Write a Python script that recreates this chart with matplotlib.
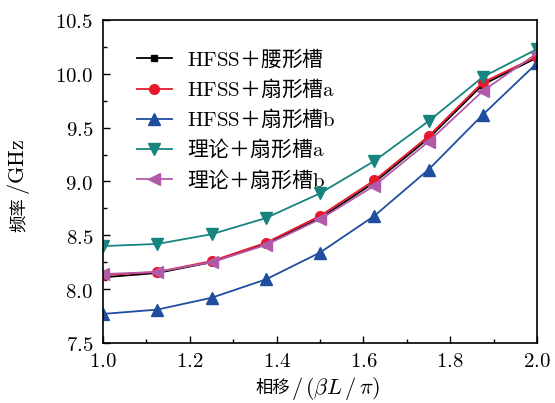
import matplotlib
matplotlib.use("Agg")
import matplotlib.pyplot as plt
from matplotlib.ticker import MultipleLocator, FuncFormatter

plt.rcParams['font.family'] = ['Noto Sans CJK SC', 'DejaVu Serif']
plt.rcParams['mathtext.fontset'] = 'cm'

x = [1.0, 1.125, 1.25, 1.375, 1.5, 1.625, 1.75, 1.875, 2.0]
hfss_waist = [8.11, 8.15, 8.25, 8.42, 8.66, 8.99, 9.40, 9.90, 10.15]
hfss_fan_a = [8.13, 8.16, 8.26, 8.43, 8.68, 9.01, 9.42, 9.92, 10.16]
hfss_fan_b = [7.77, 7.81, 7.92, 8.09, 8.34, 8.68, 9.11, 9.62, 10.10]
theory_fan_a = [8.40, 8.42, 8.51, 8.66, 8.89, 9.19, 9.56, 9.97, 10.23]
theory_fan_b = [8.14, 8.16, 8.25, 8.41, 8.65, 8.96, 9.37, 9.84, 10.19]

labels = [r'$\mathrm{HFSS}$＋腰形槽', r'$\mathrm{HFSS}$＋扇形槽$\mathrm{a}$',
          r'$\mathrm{HFSS}$＋扇形槽$\mathrm{b}$', r'理论＋扇形槽$\mathrm{a}$',
          r'理论＋扇形槽$\mathrm{b}$']

fig = plt.figure(figsize=(5.55, 4.03), dpi=100)
ax = fig.add_axes([0.1856, 0.1489, 0.782, 0.8015])

series = [
    (hfss_waist, 'black', 's', 5),
    (hfss_fan_a, '#e8192c', 'o', 7),
    (hfss_fan_b, '#1f4e9e', '^', 8),
    (theory_fan_a, '#17847f', 'v', 8),
    (theory_fan_b, '#b25aaa', '<', 8),
]
for (y, c, m, ms), lab in zip(series, labels):
    ax.plot(x, y, color=c, marker=m, markersize=ms, linewidth=1.3, label=lab)

ax.set_xlim(1.0, 2.0)
ax.set_ylim(7.5, 10.5)
ax.xaxis.set_major_locator(MultipleLocator(0.2))
ax.xaxis.set_minor_locator(MultipleLocator(0.1))
ax.yaxis.set_major_locator(MultipleLocator(0.5))
ax.yaxis.set_minor_locator(MultipleLocator(0.25))
ax.xaxis.set_major_formatter(FuncFormatter(lambda v, p: r'$%.1f$' % v))
ax.yaxis.set_major_formatter(FuncFormatter(lambda v, p: r'$%.1f$' % v))
ax.tick_params(which='both', direction='in', top=False, right=False, labelsize=15)
ax.tick_params(which='major', length=5, width=1)
ax.tick_params(which='minor', length=3, width=1)
ax.tick_params(axis='y', pad=7)
ax.tick_params(axis='x', pad=5)
for s in ax.spines.values():
    s.set_linewidth(1.2)

# x label: CJK part + math part
W, H = 555.0, 403.0
fig.text(290 / W, 1 - 388 / H, '相移', fontsize=12.5, ha='right', va='center')
fig.text(291 / W, 1 - 388 / H, r'$/\,(\beta L\,/\,\mathrm{\pi})$', fontsize=16,
         ha='left', va='center')
# y label
fig.text(19 / W, 1 - 197 / H, '频率', fontsize=12.5, rotation=90, ha='center', va='top')
fig.text(19 / W, 1 - 195 / H, r'$/\mathrm{GHz}$', fontsize=16, rotation=90,
         ha='center', va='bottom')

ax.legend(loc='upper left', frameon=False, fontsize=15, handlelength=1.7,
          handletextpad=0.7, labelspacing=0.33, borderaxespad=0.0,
          bbox_to_anchor=(0.058, 0.942))

fig.savefig('out.png', dpi=100)
